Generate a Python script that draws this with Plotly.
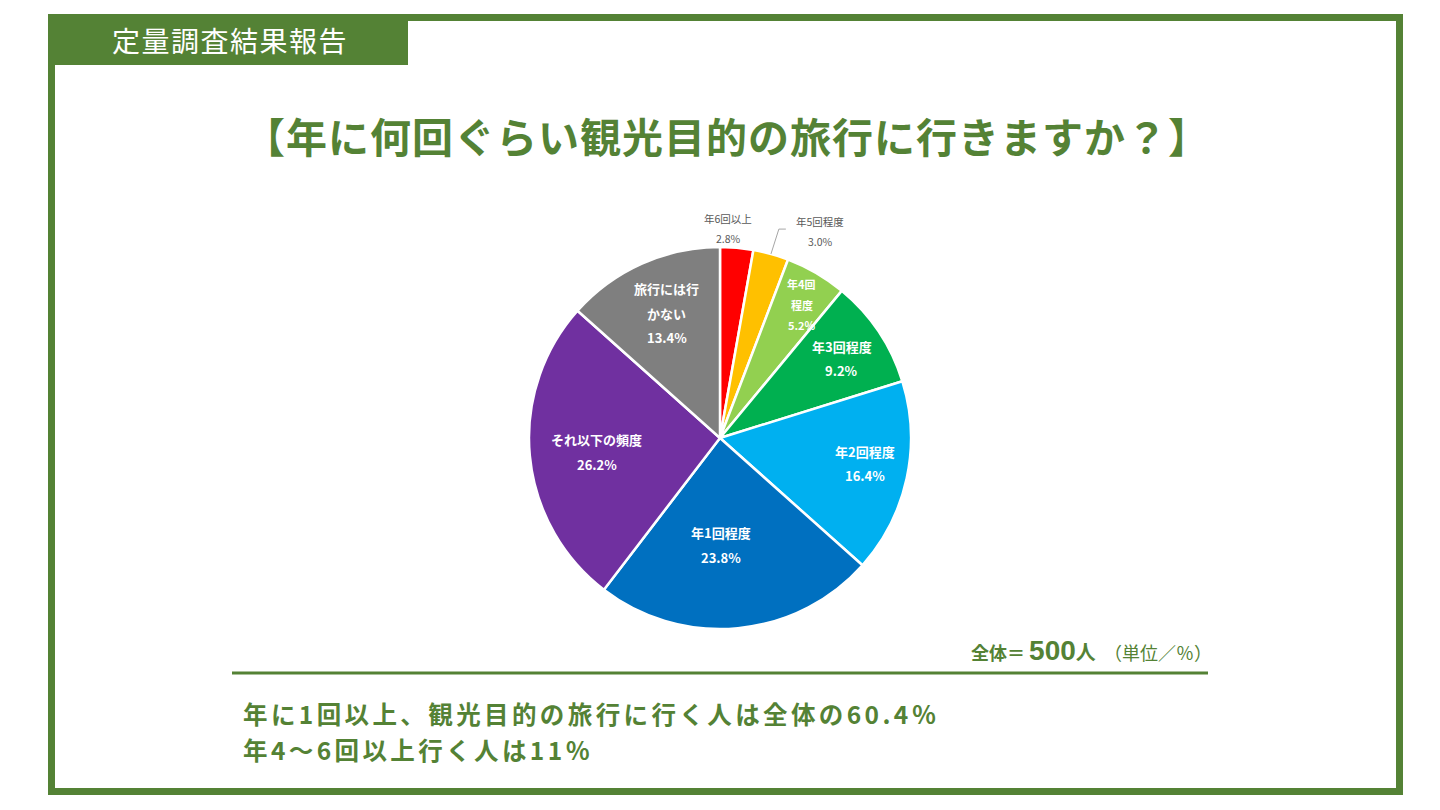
import math
import plotly.graph_objects as go

# ---- data ----
categories = ["年6回以上", "年5回程度", "年4回程度", "年3回程度", "年2回程度",
              "年1回程度", "それ以下の頻度", "旅行には行かない"]
values = [2.8, 3.0, 5.2, 9.2, 16.4, 23.8, 26.2, 13.4]
label_lines = [["年6回以上"], ["年5回程度"], ["年4回", "程度"], ["年3回程度"],
               ["年2回程度"], ["年1回程度"], ["それ以下の頻度"], ["旅行には行", "かない"]]
colors = ["#FF0000", "#FFC000", "#92D050", "#00B050", "#00B0F0",
          "#0070C0", "#7030A0", "#7F7F7F"]
title_text = "【年に何回ぐらい観光目的の旅行に行きますか？】"
header_text = "定量調査結果報告"
total_n = 500
summary_lines = ["年に1回以上、観光目的の旅行に行く人は全体の60.4％",
                 "年4〜6回以上行く人は11％"]

# ---- style / layout ----
OX, OY = 8, 8                       # page body margin
W, H = 1440 - OX, 810 - OY
GREEN = "#548235"
CX, CY, R = 720, 438, 191          # pie centre & radius in screen px
FONT = "Noto Sans CJK JP"
label_r = [1.10, 1.20, 0.82, 0.76, 0.77, 0.56, 0.65, 0.71]
label_dtheta = [-2.8, 10.4, 1.3, 0.7, -2.3, 4.9, -1.0, 1.0]
label_size = [10.5, 10.5, 11, 13, 13, 13, 13, 13]
label_color = ["#595959", "#595959", "white", "white", "white", "white", "white", "white"]
label_bold = [False, False, True, True, True, True, True, True]
summary_y = [713.5, 749.5]


def px(x):
    return (x - OX) / W


def py(y):
    return 1 - (y - OY) / H


fig = go.Figure()
fig.add_trace(go.Pie(
    labels=categories, values=values, sort=False, direction="clockwise",
    rotation=0, marker=dict(colors=colors, line=dict(color="white", width=2.5)),
    textinfo="none", hoverinfo="label+percent", showlegend=False,
    domain=dict(x=[px(CX - R), px(CX + R)], y=[py(CY + R), py(CY - R)]),
))

annotations = []
shapes = []

# slice labels, positioned from the data's cumulative angles
total = sum(values)
cum = 0.0
for i, v in enumerate(values):
    mid = (cum + v / 2) / total * 360.0
    cum += v
    th = math.radians(mid + label_dtheta[i])
    r = R * label_r[i]
    lx = CX + r * math.sin(th)
    ly = CY - r * math.cos(th)
    lines = label_lines[i] + [f"{v:.1f}%"]
    fs = label_size[i]
    spacing = fs * 1.9
    n = len(lines)
    for k, t in enumerate(lines):
        yy = ly + (k - (n - 1) / 2) * spacing
        txt = f"<b>{t}</b>" if label_bold[i] else t
        annotations.append(dict(
            x=px(lx), y=py(yy), xref="paper", yref="paper", text=txt,
            showarrow=False, xanchor="center", yanchor="middle",
            font=dict(family=FONT, size=fs, color=label_color[i])))
    if i == 1:
        # leader line for the small outside label
        thm = math.radians(mid)
        x0, y0 = CX + R * math.sin(thm), CY - R * math.cos(thm)
        x1, y1 = CX + R * 1.135 * math.sin(thm) + 1, CY - R * 1.135 * math.cos(thm)
        shapes.append(dict(type="path", xref="paper", yref="paper",
                           path=f"M {px(x0)} {py(y0)} L {px(x1)} {py(y1)} L {px(x1 + 7)} {py(y1)}",
                           line=dict(color="#A6A6A6", width=1)))

# frame
shapes.append(dict(type="rect", xref="paper", yref="paper",
                   x0=px(51.5), x1=px(1399.5), y0=py(791.5), y1=py(17.5),
                   line=dict(color=GREEN, width=7), fillcolor="rgba(0,0,0,0)"))
# header tab
shapes.append(dict(type="rect", xref="paper", yref="paper",
                   x0=px(48), x1=px(408), y0=py(65), y1=py(14),
                   line=dict(width=0), fillcolor=GREEN))
# separator line
shapes.append(dict(type="line", xref="paper", yref="paper",
                   x0=px(232), x1=px(1208), y0=py(673), y1=py(673),
                   line=dict(color=GREEN, width=3)))

annotations.append(dict(x=px(230), y=py(40), xref="paper", yref="paper",
                        text=f"<span style='letter-spacing:1.5px'>{header_text}</span>",
                        showarrow=False, xanchor="center", yanchor="middle",
                        font=dict(family=FONT, size=28, color="white")))
annotations.append(dict(x=px(727), y=py(135), xref="paper", yref="paper",
                        text=f"<b><span style='letter-spacing:1px'>{title_text}</span></b>",
                        showarrow=False, xanchor="center", yanchor="middle",
                        font=dict(family=FONT, size=41, color=GREEN)))
annotations.append(dict(
    x=px(1214), y=py(650), xref="paper", yref="paper", showarrow=False,
    xanchor="right", yanchor="middle",
    text=(f"<b><span style='font-size:18px'>全体＝ </span>"
          f"<span style='font-size:28px;font-family:Liberation Sans Narrow, Liberation Sans'>{total_n}</span>"
          f"<span style='font-size:20px'>人</span></b>"
          f"<span style='font-size:18px'>  （単位／％）</span>"),
    font=dict(family=FONT, size=18, color=GREEN)))
for k, t in enumerate(summary_lines):
    annotations.append(dict(x=px(241), y=py(summary_y[k]), xref="paper", yref="paper",
                            text=f"<b><span style='letter-spacing:3.4px'>{t}</span></b>",
                            showarrow=False, xanchor="left", yanchor="middle",
                            font=dict(family=FONT, size=24.5, color=GREEN)))

fig.update_layout(width=W, height=H, margin=dict(l=0, r=0, t=0, b=0),
                  paper_bgcolor="white", plot_bgcolor="white",
                  shapes=shapes, annotations=annotations)
fig.write_html("out.html")
